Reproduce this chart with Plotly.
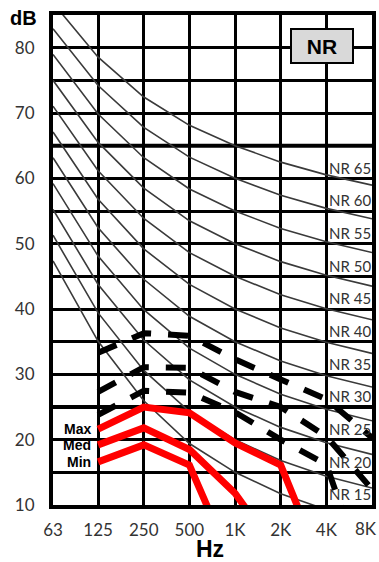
import math
import plotly.graph_objects as go

# ---- data ----
freqs = [63, 125, 250, 500, 1000, 2000, 4000, 8000]
freq_labels = ["63", "125", "250", "500", "1K", "2K", "4K", "8K"]

nr_levels = [15, 20, 25, 30, 35, 40, 45, 50, 55, 60, 65]
nr15 = [47.35, 35.05, 25.95, 19.41, 15.0, 11.73, 9.28, 7.45]
nr20 = [51.30, 39.40, 30.60, 24.28, 20.0, 16.80, 14.40, 12.60]
nr25 = [55.25, 43.75, 35.25, 29.15, 25.0, 21.88, 19.53, 17.75]
nr30 = [59.20, 48.10, 39.90, 34.02, 30.0, 26.95, 24.65, 22.90]
nr35 = [63.15, 52.45, 44.55, 38.89, 35.0, 32.03, 29.78, 28.05]
nr40 = [67.10, 56.80, 49.20, 43.76, 40.0, 37.10, 34.90, 33.20]
nr45 = [71.05, 61.15, 53.85, 48.63, 45.0, 42.18, 40.03, 38.35]
nr50 = [75.00, 65.50, 58.50, 53.50, 50.0, 47.25, 45.15, 43.50]
nr55 = [78.95, 69.85, 63.15, 58.37, 55.0, 52.33, 50.28, 48.65]
nr60 = [82.90, 74.20, 67.80, 63.24, 60.0, 57.40, 55.40, 53.80]
nr65 = [86.85, 78.55, 72.45, 68.11, 65.0, 62.48, 60.53, 58.95]
nr_curves = [nr15, nr20, nr25, nr30, nr35, nr40, nr45, nr50, nr55, nr60, nr65]

# measured spectra (black dashed)
dash_freqs = [125, 250, 500, 1000, 2000, 4000, 8000]
dash_upper = [33.3, 36.3, 35.9, 32.3, 29.2, 26.2, 20.3]
dash_middle = [27.3, 31.1, 31.0, 27.3, 25.0, 20.5, 12.4]
dash_lower = [23.8, 27.5, 27.2, 24.2, 20.0, 16.2, -4.0]

# red spectra
max_freqs = [125, 250, 500, 1000, 2000, 4000]
max_db = [21.6, 25.0, 24.1, 19.5, 16.1, -1.0]
med_freqs = [125, 250, 500, 1000, 2000]
med_db = [19.2, 21.8, 18.5, 11.8, 2.0]
min_freqs = [125, 250, 500, 1000]
min_db = [16.6, 19.2, 16.1, 0.0]
red_names = ["Max", "Med", "Min"]

y_ticks = list(range(10, 90, 5))
y_ticktext = [str(v) if v % 10 == 0 and v < 85 else "" for v in y_ticks]

TICK_FONT = "Lato, 'Open Sans', sans-serif"
BOLD_FONT = "'Liberation Sans', Arial, sans-serif"

fig = go.Figure()

for lvl, vals in zip(nr_levels, nr_curves):
    fig.add_trace(go.Scatter(x=freqs, y=vals, mode="lines",
                             line=dict(color="#3a3a3a", width=1.6),
                             hoverinfo="skip", showlegend=False))

for vals in [dash_upper, dash_middle, dash_lower]:
    fig.add_trace(go.Scatter(x=dash_freqs, y=vals, mode="lines",
                             line=dict(color="black", width=6, dash="20px,17px"),
                             hoverinfo="skip", showlegend=False))

for fx, vals in [(max_freqs, max_db), (med_freqs, med_db), (min_freqs, min_db)]:
    fig.add_trace(go.Scatter(x=fx, y=vals, mode="lines",
                             line=dict(color="#ff0000", width=7),
                             hoverinfo="skip", showlegend=False))

annotations = []
for lvl in nr_levels:
    annotations.append(dict(x=math.log10(4000), y=lvl - 3.35, xref="x", yref="y",
                            text=f"NR {lvl}", showarrow=False, xanchor="left",
                            yanchor="middle", xshift=1,
                            font=dict(family=TICK_FONT, size=15, color="#333")))

for name, fx, vals in zip(red_names, [max_freqs, med_freqs, min_freqs],
                          [max_db, med_db, min_db]):
    annotations.append(dict(x=math.log10(fx[0]), y=vals[0], xref="x", yref="y",
                            text=f"<b>{name}</b>", showarrow=False, xanchor="right",
                            yanchor="middle", xshift=-5,
                            font=dict(family=BOLD_FONT, size=14, color="black")))

# last x tick label drawn as an annotation so it stays inside the window
x_tick_axis = freq_labels[:-1] + [""]
annotations.append(dict(x=math.log10(freqs[-1]), y=0, xref="x", yref="paper",
                        text=freq_labels[-1], showarrow=False, xanchor="right",
                        yanchor="top", xshift=7, yshift=-11,
                        font=dict(family=TICK_FONT, size=17, color="#333")))

annotations.append(dict(x=-0.094, y=0.994, xref="paper", yref="paper",
                        text="<b>dB</b>", showarrow=False, xanchor="center",
                        yanchor="middle",
                        font=dict(family=BOLD_FONT, size=20, color="black")))
annotations.append(dict(x=0.492, y=-0.09, xref="paper", yref="paper",
                        text="<b>Hz</b>", showarrow=False, xanchor="center",
                        yanchor="middle",
                        font=dict(family=BOLD_FONT, size=23, color="black")))
annotations.append(dict(x=0.843, y=0.937, xref="paper", yref="paper",
                        text="<b>NR</b>", showarrow=False, xanchor="center",
                        yanchor="middle", width=56, height=28, borderpad=2,
                        bordercolor="black", borderwidth=2, bgcolor="#d9d9d9",
                        font=dict(family=BOLD_FONT, size=21, color="black")))

shapes = []
for yv in [65, 25]:
    shapes.append(dict(type="line", xref="paper", x0=0, x1=1, yref="y", y0=yv, y1=yv,
                       line=dict(color="black", width=4), layer="below"))

fig.update_layout(
    width=379, height=562,
    margin=dict(l=53, r=7, t=15, b=57),
    paper_bgcolor="white", plot_bgcolor="white",
    showlegend=False,
    annotations=annotations,
    shapes=shapes,
    xaxis=dict(type="log", range=[math.log10(63), math.log10(8000)],
               tickvals=freqs, ticktext=x_tick_axis, automargin=False,
               showgrid=True, gridcolor="black", gridwidth=2.5,
               showline=True, linecolor="black", linewidth=4, mirror=True,
               zeroline=False, ticks="", ticklabelstandoff=7,
               ticklabeloverflow="allow",
               tickfont=dict(family=TICK_FONT, size=17, color="#333")),
    yaxis=dict(range=[10, 85], tickvals=y_ticks, ticktext=y_ticktext,
               automargin=False,
               showgrid=True, gridcolor="black", gridwidth=2.5,
               showline=True, linecolor="black", linewidth=4, mirror=True,
               zeroline=False, ticks="", ticklabelstandoff=11,
               tickfont=dict(family=TICK_FONT, size=17, color="#333")),
)

fig.write_html("out.html", config={"displayModeBar": False},
               post_script="document.body.style.margin='0px';document.body.style.padding='0px';")
